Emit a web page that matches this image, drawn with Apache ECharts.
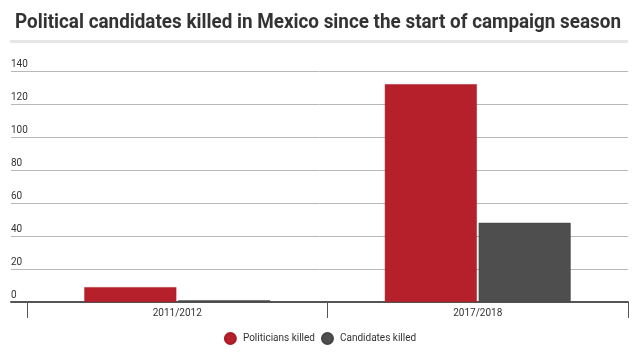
<!DOCTYPE html>
<html>
<head>
<meta charset="utf-8">
<script src="https://cdn.jsdelivr.net/npm/echarts@6/dist/echarts.min.js"></script>
<style>
html,body{margin:0;padding:0;background:#fff;}
#chart{width:640px;height:360px;}
</style>
</head>
<body>
<div id="chart"></div>
<script>
var titleText = 'Political candidates killed in Mexico since the start of campaign season';
var categories = ['2011/2012', '2017/2018'];
var politiciansKilled = [9, 132];
var candidatesKilled = [1, 48];
var seriesNames = ['Politicians killed', 'Candidates killed'];
var yTicks = [0, 20, 40, 60, 80, 100, 120, 140];

(function () {
var FONT = 'Roboto, "Noto Sans", sans-serif';
var titleFont = 'bold 21px ' + FONT;
var cv = document.createElement('canvas').getContext('2d');
cv.font = titleFont;
var tw = cv.measureText(titleText).width;
var sx = 606 / tw;

var chart = echarts.init(document.getElementById('chart'), null, {renderer: 'canvas'});
var gTop = 71, gBottom = 58;
chart.setOption({
  animation: false,
  backgroundColor: '#ffffff',
  graphic: [
    {type: 'text', left: 15, top: 12, scaleX: sx, originX: 0,
     style: {text: titleText, font: titleFont, fill: '#333333'}},
    {type: 'rect', shape: {x: 10, y: 40, width: 618, height: 3}, style: {fill: '#e6e6e6'}}
  ],
  legend: {
    bottom: 10, left: 'center',
    icon: 'circle', itemWidth: 11, itemHeight: 11, itemGap: 6,
    textStyle: {fontFamily: FONT, fontSize: 10, color: '#333', padding: [0, 0, 0, 2]},
    data: seriesNames
  },
  grid: [
    {left: 11, right: 12, top: gTop, bottom: gBottom},
    {left: 27, right: 12, top: gTop, bottom: gBottom}
  ],
  xAxis: [
    {type: 'value', gridIndex: 0, min: 0, max: 1, show: true,
     axisLine: {show: true, onZero: false, lineStyle: {color: '#555', width: 2}},
     axisTick: {show: false}, axisLabel: {show: false}, splitLine: {show: false}},
    {type: 'category', gridIndex: 1, data: categories,
     axisLine: {show: false},
     axisTick: {show: true, length: 16, lineStyle: {color: '#555', width: 1}},
     axisLabel: {margin: 6, fontFamily: FONT, fontSize: 10, color: '#333'}}
  ],
  yAxis: [
    {type: 'value', gridIndex: 0, min: 0, max: 140, interval: 20,
     axisLine: {show: false}, axisTick: {show: false},
     axisLabel: {inside: true, align: 'left', verticalAlign: 'bottom', margin: 0,
       padding: [0, 0, 2, 0], fontFamily: FONT, fontSize: 10, color: '#333',
       formatter: function (v) { return yTicks.indexOf(v) >= 0 ? String(v) : ''; }},
     splitLine: {show: true, lineStyle: {color: '#b8b8b8', width: 1}}},
    {type: 'value', gridIndex: 1, min: 0, max: 140, interval: 20, show: false,
     splitLine: {show: false}}
  ],
  series: [
    {name: seriesNames[0], type: 'bar', xAxisIndex: 1, yAxisIndex: 1,
     data: politiciansKilled, barWidth: 92, barGap: '2%',
     itemStyle: {color: '#b5202b', borderColor: '#a81c26', borderWidth: 0.5}},
    {name: seriesNames[1], type: 'bar', xAxisIndex: 1, yAxisIndex: 1,
     data: candidatesKilled, barWidth: 92,
     itemStyle: {color: '#4e4e4e', borderColor: '#444', borderWidth: 0.5}}
  ]
});
})();
</script>
</body>
</html>
